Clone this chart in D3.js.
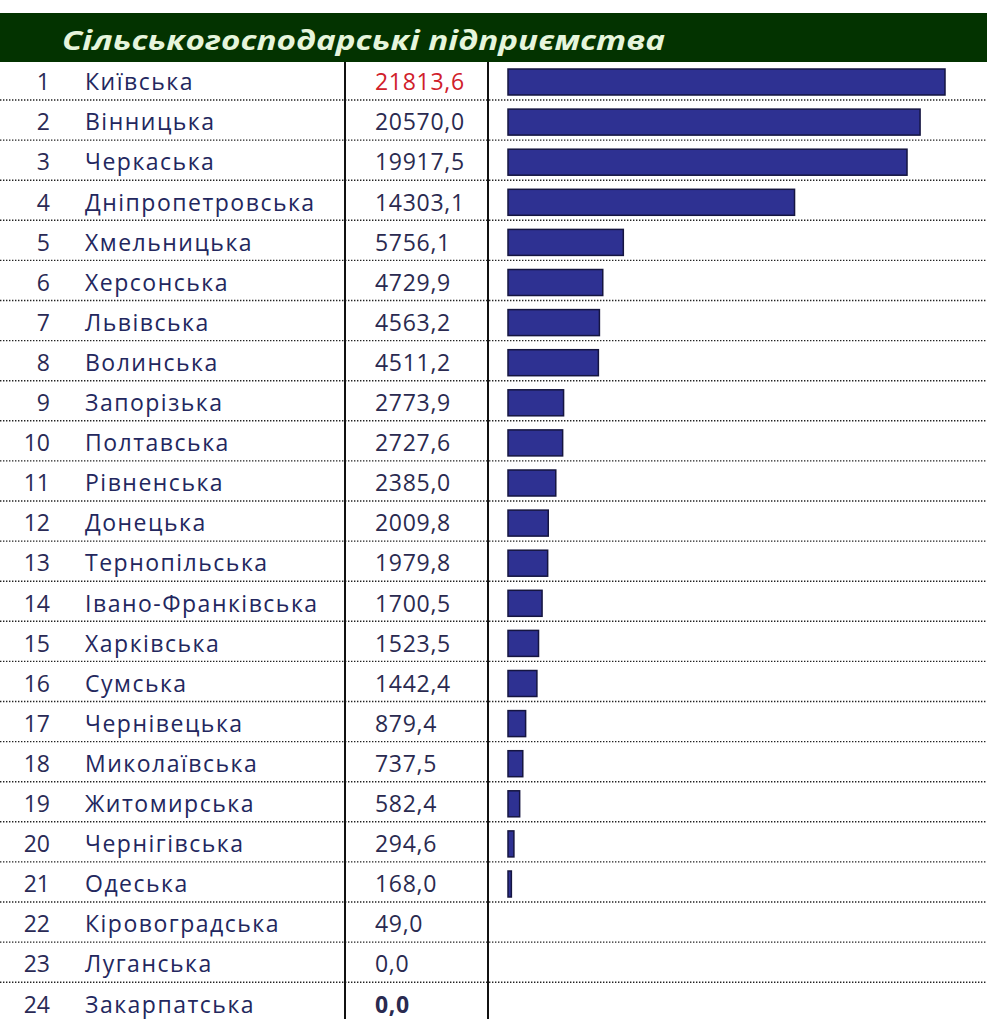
<!DOCTYPE html>
<html><head><meta charset="utf-8">
<script src="https://cdn.jsdelivr.net/npm/d3@7"></script>
<style>body{margin:0;background:#fff}svg{display:block}</style>
</head><body>
<script>
const title = "Сільськогосподарські підприємства";
const ranks = d3.range(1, 25);
const regions = ["Київська","Вінницька","Черкаська","Дніпропетровська","Хмельницька","Херсонська","Львівська","Волинська","Запорізька","Полтавська","Рівненська","Донецька","Тернопільська","Івано-Франківська","Харківська","Сумська","Чернівецька","Миколаївська","Житомирська","Чернігівська","Одеська","Кіровоградська","Луганська","Закарпатська"];
const values = [21813.6,20570.0,19917.5,14303.1,5756.1,4729.9,4563.2,4511.2,2773.9,2727.6,2385.0,2009.8,1979.8,1700.5,1523.5,1442.4,879.4,737.5,582.4,294.6,168.0,49.0,0.0,0.0];

const W = 987, H = 1019;
const svg = d3.select("body").append("svg").attr("width", W).attr("height", H);
const font = "'Open Sans', sans-serif";

const headTop = 13, headBot = 62;
svg.append("rect").attr("x",0).attr("y",headTop).attr("width",W).attr("height",headBot-headTop).attr("fill","#033300");
svg.append("text").attr("x",62).attr("y",50).text(title)
  .attr("font-family",font).attr("font-weight","bold").attr("font-style","italic")
  .attr("font-size",27).attr("fill","#e6f5dc")
  .attr("textLength",603).attr("lengthAdjust","spacingAndGlyphs");

const rowH = 40.1, firstSep = 100;
const y = d3.scaleBand().domain(ranks).range([firstSep - rowH, firstSep - rowH + rowH*24]).paddingInner(0);
const x = d3.scaleLinear().domain([0, d3.max(values)]).range([508, 945]);

// separators
for (let i = 0; i < 23; i++) {
  const yy = y(ranks[i]) + y.bandwidth();
  svg.append("line").attr("x1",0).attr("x2",W).attr("y1",yy).attr("y2",yy)
    .attr("stroke","#222").attr("stroke-width",1.4).attr("stroke-dasharray","1.4,1.6");
}
// vertical lines
[345, 488].forEach(xx => svg.append("line").attr("x1",xx).attr("x2",xx).attr("y1",headBot).attr("y2",H)
  .attr("stroke","#111").attr("stroke-width",2));

const base = -9.8;
const rows = svg.selectAll("g.row").data(ranks).join("g").attr("class","row")
  .attr("transform", d => `translate(0,${y(d) + y.bandwidth()})`);
rows.append("text").attr("x",50).attr("y",base).attr("text-anchor","end")
  .attr("font-family",font).attr("font-size",23).attr("fill","#2a2a55").text(d => d);
rows.append("text").attr("x",85).attr("y",base)
  .attr("font-family",font).attr("font-size",23).attr("fill","#23275e").attr("letter-spacing",1.5)
  .text((d,i) => regions[i]);
rows.append("text").attr("x",375).attr("y",base)
  .attr("font-family",font).attr("font-size",23).attr("letter-spacing",0.7)
  .attr("font-weight",(d,i) => i === 23 ? "bold" : "normal")
  .attr("fill",(d,i) => i === 0 ? "#d0202a" : "#2a2a50")
  .text((d,i) => values[i].toFixed(1).replace(".", ","));
rows.filter((d,i) => values[i] > 100).append("rect")
  .attr("x", x(0)).attr("y", -31).attr("height", 26)
  .attr("width", (d,i) => Math.max(2, x(values[i]) - x(0)))
  .attr("fill","#2e3192").attr("stroke","#151540").attr("stroke-width",1.5);
</script>
</body></html>
